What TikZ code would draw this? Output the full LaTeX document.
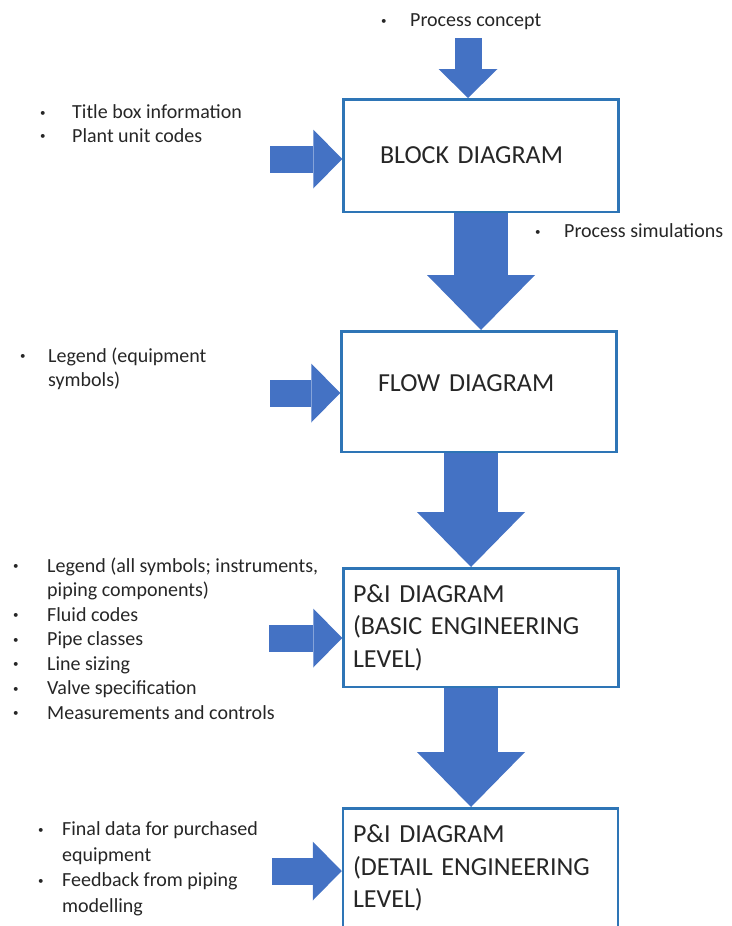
\documentclass[tikz,border=0pt]{standalone}
\usepackage{fontspec}
\setmainfont{Carlito}
\usetikzlibrary{arrows.meta}

\definecolor{arrowblue}{RGB}{68,114,196}
\definecolor{boxblue}{RGB}{46,117,182}
\definecolor{txt}{RGB}{38,38,38}

\newcommand{\bul}[1]{\makebox[#1][l]{\raisebox{2.5pt}{\scalebox{0.55}{\textbullet}}}}

\begin{document}
\begin{tikzpicture}[x=1pt,y=-1pt,
    stage/.style={draw=boxblue,line width=2.5pt,minimum width=275pt,align=left,
      text=txt,font=\fontsize{26}{32.5}\selectfont},
    note/.style={align=left,inner sep=0pt,text=txt,font=\fontsize{20}{24.5}\selectfont},
    feed/.style={draw=arrowblue,line width=27pt,
      -{Triangle[width=59pt,length=29pt,line width=0pt]}},
    flow/.style={draw=arrowblue,line width=54pt,
      -{Triangle[width=108pt,length=55pt,line width=0pt]}}]
    \useasboundingbox (0,0) rectangle (731,926);

    % the four stages
    \node[stage,minimum height=112.5pt,inner xsep=36.5pt,text width=202pt] (block) at (481,155.5) {BLOCK DIAGRAM};
    \node[stage,minimum height=120.5pt,inner xsep=36.5pt,text width=202pt] (flowd) at (479,391.5) {\raisebox{0pt}[0pt][0pt]{FLOW DIAGRAM}};
    \node[stage,minimum height=118.5pt,inner xsep=9.5pt,text width=256pt] (basic) at (481,627.5) {P\&I DIAGRAM\\(BASIC ENGINEERING\\LEVEL)};
    \node[stage,minimum height=119.5pt,inner xsep=9.5pt,text width=255pt] (detail) at (480.5,868) {P\&I DIAGRAM\\(DETAIL ENGINEERING\\LEVEL)};

    % inputs
    \node[note,anchor=west] (concept) at (381,22) {\bul{29pt}Process concept};
    \node[note,anchor=north west,font=\fontsize{20}{23.5}\selectfont] (titlebox) at (40,104.5)
      {\bul{32pt}Title box information\\\bul{32pt}Plant unit codes};
    \node[note,anchor=west] (simul) at (535,231) {\bul{29pt}Process simulations};
    \node[note,anchor=north west] (legend) at (20,347.5)
      {\bul{28pt}Legend (equipment\\\hspace*{28pt}symbols)};
    \node[note,anchor=north west] (pidin) at (13,557.5)
      {\bul{34pt}Legend (all symbols; instruments,\\\hspace*{34pt}piping components)\\
       \bul{34pt}Fluid codes\\\bul{34pt}Pipe classes\\\bul{34pt}Line sizing\\
       \bul{34pt}Valve specification\\\bul{34pt}Measurements and controls};
    \node[note,anchor=north west,font=\fontsize{20}{25.5}\selectfont] (detin) at (38,821.5)
      {\bul{24pt}Final data for purchased\\\hspace*{24pt}equipment\\
       \bul{24pt}Feedback from piping\\\hspace*{24pt}modelling};

    % block arrows
    \coordinate (top) at (468,38);
    \coordinate (in1) at (270,159);
    \coordinate (in2) at (270,393);
    \coordinate (in3) at (269,638);
    \coordinate (in4) at (272,871);
    \draw[feed] (top) -- (top |- block.north);
    \draw[feed] (in1) -- (in1 -| block.west);
    \draw[feed] (in2) -- (in2 -| flowd.west);
    \draw[feed] (in3) -- (in3 -| basic.west);
    \draw[feed] (in4) -- (in4 -| detail.west);
    \draw[flow] (block.south) -- (block.south |- flowd.north);
    \draw[flow] ([xshift=-8pt]flowd.south) -- ([xshift=-8pt]flowd.south |- basic.north);
    \draw[flow] ([xshift=-10pt]basic.south) -- ([xshift=-10pt]basic.south |- detail.north);
\end{tikzpicture}
\end{document}
